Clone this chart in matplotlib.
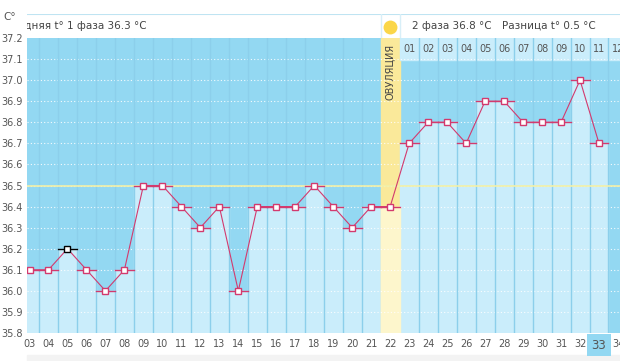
import matplotlib.pyplot as plt
from matplotlib.patches import Rectangle

days = list(range(3, 35))
day_labels = ['%02d' % d for d in days]
temps = [36.1, 36.1, 36.2, 36.1, 36.0, 36.1, 36.5, 36.5, 36.4, 36.3,
         36.4, 36.0, 36.4, 36.4, 36.4, 36.5, 36.4, 36.3, 36.4, 36.4,
         36.7, 36.8, 36.8, 36.7, 36.9, 36.9, 36.8, 36.8, 36.8, 37.0,
         36.7, None]
ovulation_day = 22
selected_day = 5
today = 33
phase1_text = 'Средняя t° 1 фаза 36.3 °C'
phase2_text = '2 фаза 36.8 °C'
diff_text = 'Разница t° 0.5 °C'
coverline = 36.5
yticks = [round(35.8 + 0.1 * i, 1) for i in range(15)]

DARK = '#93d8f2'
LIGHT = '#caedfb'
SEP = '#8ccfeb'
PINK = '#d33a6e'
YEL_TOP = '#fae99a'
YEL_BOT = '#fdf6cc'
GREY = '#555555'

fig = plt.figure(figsize=(6.2, 3.61), dpi=100)
fig.patch.set_facecolor('white')
# light strip at the very bottom
fig.add_artist(Rectangle((27 / 620, 0), 1, 6 / 361, transform=fig.transFigure,
                         color='#f3f3f3', zorder=0))

ax = fig.add_axes([27 / 620, 28 / 361, 593 / 620, 295 / 361])
x0, x1 = 2.868, 34.106
ax.set_xlim(x0, x1)
ax.set_ylim(35.8, 37.2)
ax.set_facecolor(DARK)

# bars
for d, t in zip(days, temps):
    if d == ovulation_day:
        ax.add_patch(Rectangle((d - 0.5, 35.8), 1, 1.4, color=YEL_TOP, zorder=1))
        ax.add_patch(Rectangle((d - 0.5, 35.8), 1, t - 35.8, color=YEL_BOT, zorder=1.1))
    elif t is not None:
        ax.add_patch(Rectangle((d - 0.5, 35.8), 1, t - 35.8, color=LIGHT, zorder=1))

# phase 2 header cells
for d in days:
    if d > ovulation_day:
        ax.add_patch(Rectangle((d - 0.5, 37.2 - 0.105), 1, 0.105, color=LIGHT, zorder=1.2))

# column separators
for d in days:
    if d not in (ovulation_day, ovulation_day + 1):
        ax.axvline(d - 0.5, color=SEP, lw=1, zorder=1.5)

# grid
for y in yticks[1:-1]:
    ax.plot([x0, x1], [y, y], color='white', lw=0.8, ls=(0, (1, 2)), alpha=0.9, zorder=1.3)
ax.axhline(coverline, color='#f2f0a8', lw=1.2, zorder=2)

# line + markers
xs = [d for d, t in zip(days, temps) if t is not None]
ys = [t for t in temps if t is not None]
ax.plot(xs, ys, color=PINK, lw=0.8, zorder=3)
for d, t in zip(xs, ys):
    c = 'black' if d == selected_day else PINK
    ax.plot([d - 0.5, d + 0.5], [t, t], color=c, lw=1.0, zorder=3)
    ax.plot(d, t, marker='s', ms=4, mfc='white', mec=c, mew=1.0, zorder=4)

# ovulation text
ax.text(ovulation_day, 37.17, 'ОВУЛЯЦИЯ', rotation=90, ha='center', va='top',
        fontsize=7, color='#444444', zorder=5)

# phase 2 day numbers
for i, d in enumerate([d for d in days if d > ovulation_day]):
    ax.text(d, 37.2 - 0.052, '%02d' % (i + 1), ha='center', va='center',
            fontsize=7, color=GREY, zorder=5)

# ticks
ax.set_yticks(yticks)
ax.set_yticklabels(['%.1f' % y for y in yticks], fontsize=7, color=GREY)
ax.set_xticks(days)
ax.set_xticklabels(day_labels, fontsize=7, color=GREY)
ax.tick_params(length=0, pad=4)
ax.tick_params(axis='y', pad=3)
for s in ax.spines.values():
    s.set_visible(False)
for lbl in ax.get_xticklabels():
    if lbl.get_text() == '%02d' % today:
        lbl.set_bbox(dict(boxstyle='square,pad=0.35', fc=DARK, ec='none'))
        lbl.set_fontsize(8.5)

# header strip
hx = fig.add_axes([27 / 620, 323 / 361, 593 / 620, 24 / 361])
hx.set_xlim(x0, x1)
hx.set_ylim(0, 1)
hx.axis('off')
hx.axhline(1, color='#bfe4f2', lw=1.5)
hx.axvline(ovulation_day - 0.5, color='#d8eff8', lw=1)
hx.axvline(ovulation_day + 0.5, color='#d8eff8', lw=1)
hx.text(x0 - 1.2, 0.5, phase1_text, ha='left', va='center', fontsize=7.5,
        color='#444444', clip_on=True)
hx.plot(ovulation_day, 0.45, 'o', ms=10, color='#fbd648', mec='none')
hx.text(ovulation_day + 1.15, 0.5, phase2_text, ha='left', va='center',
        fontsize=7.5, color='#444444')
hx.text(ovulation_day + 5.9, 0.5, diff_text, ha='left', va='center',
        fontsize=7.5, color='#444444')

fig.text(10 / 620, 1 - 17 / 361, 'C°', ha='center', va='center', fontsize=7.5, color=GREY)

fig.savefig('out.png', dpi=100)
